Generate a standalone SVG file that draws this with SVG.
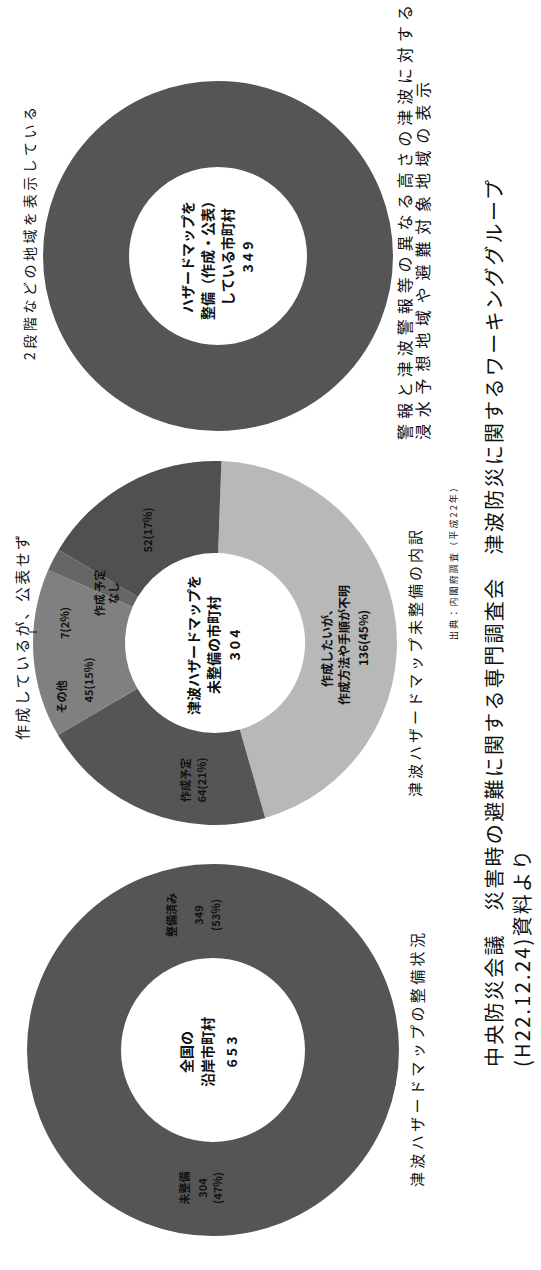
<svg xmlns="http://www.w3.org/2000/svg" width="541" height="1270" viewBox="0 0 541 1270">
<style>
text{font-family:"Noto Sans CJK JP","Noto Sans",sans-serif;fill:#111}
.ring{fill:none;stroke:#555}
.c{font-size:14px;font-weight:bold;text-anchor:middle}
.lb{font-size:11px;font-weight:bold;text-anchor:middle;fill:#111}
.lt{font-size:12px;font-weight:bold;text-anchor:middle;fill:#111}
.cap{font-size:15px}
.title{font-size:20px}
</style>
<rect width="541" height="1270" fill="#fff"/>
<g transform="translate(0,1270) rotate(-90)">
<g id="donut1">
<circle class="ring" cx="220" cy="213" r="139" stroke-width="94"/>
<text class="c" x="218" y="192">全国の</text>
<text class="c" x="218" y="213">沿岸市町村</text>
<text class="c" x="218" y="237">6 5 3</text>
<text class="lb" x="355" y="176">整備済み</text>
<text class="lb" x="355" y="203">349</text>
<text class="lb" x="355" y="220">(53%)</text>
<text class="lb" x="82" y="189">未整備</text>
<text class="lb" x="82" y="207">304</text>
<text class="lb" x="82" y="222">(47%)</text>
</g>
<g id="donut2">
<path d="M808.9,221.4 A182,182 0 0 1 452.1,265.2 L540.5,239.8 A90,90 0 0 0 717.0,218.1 Z" fill="#b8b8b8"/>
<path d="M452.1,265.2 A182,182 0 0 1 534.9,58.0 L581.5,137.4 A90,90 0 0 0 540.5,239.8 Z" fill="#555"/>
<path d="M534.9,58.0 A182,182 0 0 1 699.9,48.2 L663.0,132.5 A90,90 0 0 0 581.5,137.4 Z" fill="#808080"/>
<path d="M699.9,48.2 A182,182 0 0 1 720.2,58.7 L673.1,137.7 A90,90 0 0 0 663.0,132.5 Z" fill="#666"/>
<path d="M720.2,58.7 A182,182 0 0 1 808.9,221.4 L717.0,218.1 A90,90 0 0 0 673.1,137.7 Z" fill="#505050"/>
<text class="c" x="625" y="199">津波ハザードマップを</text>
<text class="c" x="625" y="219">未整備の市町村</text>
<text class="c" x="625" y="240">3 0 4</text>
<text class="lb" x="573" y="66">その他</text>
<text class="lb" x="647" y="69">7(2%)</text>
<text class="lb" x="590" y="93">45(15%)</text>
<text class="lb" x="677" y="104">作成 予定</text>
<text class="lb" x="677" y="118">なし</text>
<text class="lb" x="740" y="152">52(17%)</text>
<text class="lb" x="490" y="190">作成予定</text>
<text class="lb" x="490" y="206">64(21%)</text>
<text class="lt" x="625" y="332">作成したいが、</text>
<text class="lt" x="625" y="349">作成方法や手順が不明</text>
<text class="lt" x="632" y="368">136(45%)</text>
</g>
<g id="donut3">
<circle class="ring" cx="1014" cy="218" r="132" stroke-width="86"/>
<text class="c" x="1013" y="193">ハザードマップを</text>
<text class="c" x="1013" y="213">整備（作成・公表）</text>
<text class="c" x="1013" y="233">している市町村</text>
<text class="c" x="1013" y="253">3 4 9</text>
</g>
<g id="connectors">
<line x1="638" y1="29" x2="638" y2="37" stroke="#111" stroke-width="1"/>
</g>
<g id="labels">
<text x="530" y="28" font-size="15" textLength="205" lengthAdjust="spacing">作成しているが、公表せず</text>
<text x="910" y="35" font-size="14" textLength="253" lengthAdjust="spacing">2段階などの地域を表示している</text>
<text class="cap" x="83" y="423" textLength="254" lengthAdjust="spacing">津波ハザードマップの整備状況</text>
<text class="cap" x="473" y="421" textLength="267" lengthAdjust="spacing">津波ハザードマップ未整備の内訳</text>
<text x="630" y="457" font-size="9" textLength="157" lengthAdjust="spacing">出典：内閣府調査（平成22年）</text>
<text x="830" y="411" font-size="16" textLength="435" lengthAdjust="spacing">警報と津波警報等の異なる高さの津波に対する</text>
<text x="830" y="429" font-size="16" textLength="358" lengthAdjust="spacing">浸水予想地域や避難対象地域の表示</text>
<text class="title" x="203" y="502" textLength="887" lengthAdjust="spacing">中央防災会議　災害時の避難に関する専門調査会　津波防災に関するワーキンググループ</text>
<text class="title" x="203" y="530" textLength="217" lengthAdjust="spacing">(H22.12.24)資料より</text>
</g>
</g>
</svg>
